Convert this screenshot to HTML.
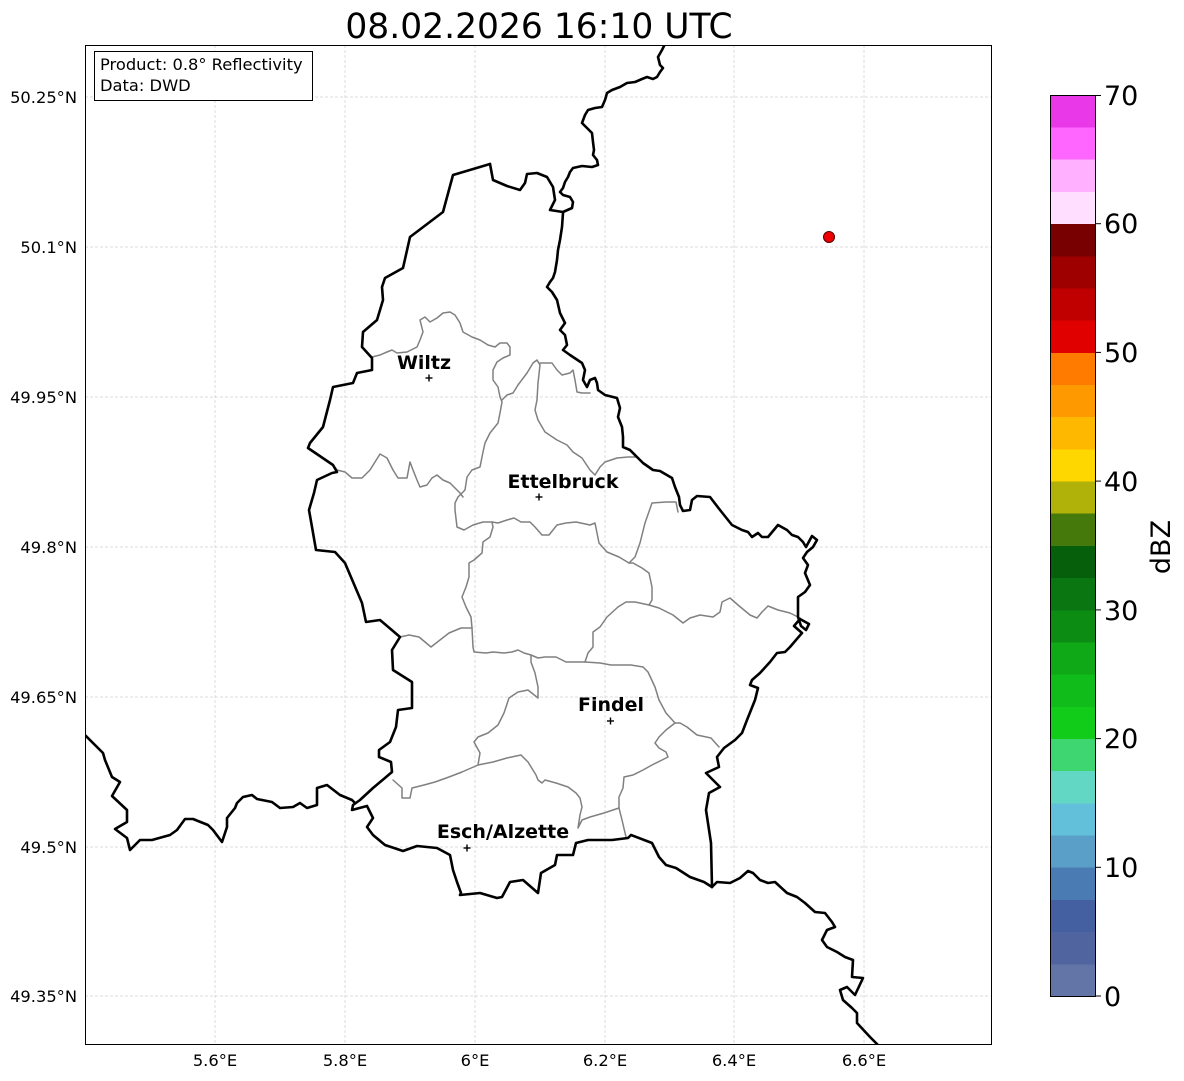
<!DOCTYPE html>
<html><head><meta charset="utf-8"><style>
html,body{margin:0;padding:0;background:#fff;}
svg{display:block;font-family:"DejaVu Sans","Liberation Sans",sans-serif;}
</style></head><body>
<svg width="1184" height="1081" viewBox="0 0 1184 1081" xmlns="http://www.w3.org/2000/svg">
<defs><clipPath id="ax"><rect x="85" y="45" width="907" height="1000"/></clipPath></defs>
<rect width="1184" height="1081" fill="#fff"/>
<text x="539" y="38" font-size="34.5" text-anchor="middle" fill="#000">08.02.2026 16:10 UTC</text>
<g stroke="#b8b8b8" stroke-width="0.5" stroke-dasharray="3,2" fill="none">
<line x1="215" y1="45" x2="215" y2="1045"/><line x1="345" y1="45" x2="345" y2="1045"/><line x1="475" y1="45" x2="475" y2="1045"/><line x1="605" y1="45" x2="605" y2="1045"/><line x1="734" y1="45" x2="734" y2="1045"/><line x1="864" y1="45" x2="864" y2="1045"/>
<line x1="85" y1="97" x2="992" y2="97"/><line x1="85" y1="247" x2="992" y2="247"/><line x1="85" y1="397" x2="992" y2="397"/><line x1="85" y1="547" x2="992" y2="547"/><line x1="85" y1="697" x2="992" y2="697"/><line x1="85" y1="847" x2="992" y2="847"/><line x1="85" y1="996" x2="992" y2="996"/>
</g>
<g clip-path="url(#ax)" fill="none" stroke-linejoin="round" stroke-linecap="round">
<g stroke="#808080" stroke-width="1.5">
<polyline points="372,357 380,355 387,352 392,350 397,353 407,352 417,347 420,340 423,332 420,320 425,317 430,322 437,318 443,313 450,312 455,315 460,323 463,332 472,337 480,340 488,345 495,347 500,343 507,343 510,347 510,355 503,358 497,362 493,370 493,380 498,387 500,397 502,402 500,413 498,423 490,433 485,443 483,452 480,467 472,470 467,477 465,490 458,497 455,503 455,510 457,527 464,530 473,525 483,522 492,522 498,523 507,520 514,518 521,522 530,522 535,527 542,535 549,535 557,525 566,523 576,522 590,525 595,523 599,543 607,552 619,557 629,563 635,557 640,543 645,523 652,503 666,502 676,502 678,512"/>
<polyline points="502,400 507,395 513,393 518,385 527,373 533,363 537,360 540,365 538,383 537,400 535,410 538,420 545,432 557,440 567,445 573,452 582,458 590,470 595,475 600,467 605,462 617,458 628,457 636,457"/>
<polyline points="540,363 545,363 552,363 557,370 562,375 570,373 573,370 575,380 577,392 582,393 590,393"/>
<polyline points="333,465 337,470 345,472 352,478 362,478 370,470 375,462 380,454 387,458 393,470 398,478 407,478 410,462 413,470 417,480 420,487 427,485 432,478 437,475 443,480 450,483 455,488 460,493 463,497"/>
<polyline points="492,522 493,527 490,537 483,542 482,553 474,560 469,563 469,577 466,587 462,597 466,607 471,617 472,628"/>
<polyline points="472,628 461,628 449,633 431,647 419,637 409,635 400,637"/>
<polyline points="472,628 473,647 474,652 486,653 493,652 504,653 512,652 518,650 524,653 531,655 538,658 545,657 556,657 566,662 576,662 585,662 600,663 611,665 631,665 643,667 648,672 655,687 659,700 666,713 675,723 680,723 687,727 697,735 711,738 719,747"/>
<polyline points="585,662 588,653 593,647 593,632 600,627 607,617 618,607 626,602 635,602 649,605 659,608 673,615 683,623 690,618 700,615 713,617 720,612 722,602 730,598 738,605 750,615 757,618 762,612 768,606 778,610 790,613 800,618"/>
<polyline points="649,605 652,600 652,587 649,573 642,568 633,563 629,563"/>
<polyline points="675,723 666,730 659,737 655,743 659,748 666,752 668,757 662,760 652,765 643,770 633,775 624,777 623,788 619,797 619,808 622,820 626,837 628,838"/>
<polyline points="619,808 604,813 590,817 582,820 578,828 580,815 582,807 580,798 576,793 568,787 556,783 545,780 542,783 538,780 536,775 528,762 523,757 521,755 507,758 493,762 478,765 462,772 449,777 435,782 424,785 412,788 410,798 402,798 402,788 393,780"/>
<polyline points="478,765 480,753 474,742 478,737 488,733 498,725 504,713 509,698 518,692 528,690 538,698 538,687 535,673 531,662 531,655"/>
</g>
<g stroke="#000" stroke-width="2.6">
<polyline points="490,164 453,175 443,212 410,237 403,268 385,278 382,287 383,300 377,320 363,332 362,347 372,358 372,370 357,373 353,383 333,387 330,400 323,427 310,443 308,448 333,465 337,472 332,473 317,480 314,493 309,510 312,527 316,550 335,552 345,563 362,603 366,622 380,620 400,637 392,650 393,670 412,682 412,708 398,710 396,727 390,742 379,750 379,757 391,762 392,772 373,788 360,800 353,805 352,810 367,806 373,818 367,827 373,835 385,845 403,851 417,846 437,848 450,855 453,870 457,882 461,893 460,895 480,893 497,898 502,897 510,882 523,880 538,893 541,873 555,865 557,855 573,855 576,843 588,840 612,840 628,838 631,835 652,843 659,857 666,865 676,868 690,877 704,882 712,887"/>
<polyline points="712,887 711,843 706,810 709,793 720,787 706,773 719,767 717,757 724,748 735,740 742,733 747,720 755,700 758,688 750,685 752,680 760,673 770,662 777,653 785,652 790,647 802,633 794,626 800,619 809,624 806,630 801,626 798,617 798,597 805,592 810,585 805,573 808,565 803,558 807,552 813,547 817,540 812,536 806,547 803,542 798,537 792,535 787,530 778,525 768,537 762,537 758,533 752,537 748,532 742,530 732,525 720,510 710,497 697,496 692,500 690,510 683,511 680,505 679,497 675,487 672,478 660,471 653,470 643,463 637,457 630,450 623,447 623,437 622,427 618,417 620,408 617,398 605,395 598,390 597,383 595,378 590,380 587,387 583,380 585,370 582,363 570,355 563,350 567,345 565,335 560,330 565,323 560,313 557,300 552,292 547,287 550,282 553,278 555,272 557,260 558,250 560,240 562,227 563,213"/>
<polyline points="490,164 493,180 507,186 520,190 525,183 527,174 537,173 547,177 553,187 555,200 550,210 563,212 572,208 573,202 570,197 563,195 560,192 563,188 565,182 568,177 570,172 573,168 582,166 592,167 598,165 597,160 593,155 594,150 593,142 592,133 587,128 582,123 585,115 588,110 595,108 602,107 605,100 607,93 612,90 620,87 627,83 635,82 642,79 647,77 653,79 657,77 660,72 663,68 660,65 658,57 662,50 665,44"/>
<polyline points="85,735 103,753 105,760 112,777 120,782 112,796 127,810 127,822 115,829 127,838 130,850 140,840 152,840 170,835 177,830 185,819 193,819 208,825 213,830 222,842 227,827 227,818 235,808 237,803 243,797 252,795 257,799 272,802 280,808 293,807 300,803 307,808 317,805 317,788 327,785 340,795 352,800 355,803"/>
<polyline points="712,887 717,882 730,883 740,878 748,871 753,873 760,880 768,883 775,882 787,893 797,897 805,903 815,912 825,913 832,922 835,927 827,930 822,940 827,947 837,952 845,957 853,960 852,977 863,978 855,995 847,987 840,990 843,1000 852,1008 857,1013 857,1023 870,1037 878,1045 884,1052"/>
</g>
</g>
<circle cx="829" cy="237" r="5.5" fill="#ee0000" stroke="#550000" stroke-width="1"/>
<g stroke="#000" stroke-width="1.4">
<line x1="425.5" y1="378" x2="432.5" y2="378"/><line x1="429" y1="374.5" x2="429" y2="381.5"/>
<line x1="535.5" y1="497" x2="542.5" y2="497"/><line x1="539" y1="493.5" x2="539" y2="500.5"/>
<line x1="607" y1="721" x2="614" y2="721"/><line x1="610.5" y1="717.5" x2="610.5" y2="724.5"/>
<line x1="463.5" y1="848" x2="470.5" y2="848"/><line x1="467" y1="844.5" x2="467" y2="851.5"/>
</g>
<g font-size="19" font-weight="bold" text-anchor="middle" fill="#000">
<text x="424" y="369">Wiltz</text>
<text x="563" y="488">Ettelbruck</text>
<text x="611" y="711">Findel</text>
<text x="503" y="838">Esch/Alzette</text>
</g>
<rect x="85.5" y="45.5" width="906" height="999" fill="none" stroke="#000" stroke-width="1"/>
<rect x="94.5" y="51.5" width="218" height="49" fill="#fff" stroke="#000" stroke-width="1"/>
<text x="100" y="70" font-size="16.3" fill="#000">Product: 0.8° Reflectivity</text>
<text x="100" y="91" font-size="16.3" fill="#000">Data: DWD</text>
<g font-size="16.3" fill="#000" text-anchor="end">
<text x="77" y="103">50.25°N</text>
<text x="77" y="253">50.1°N</text>
<text x="77" y="403">49.95°N</text>
<text x="77" y="553">49.8°N</text>
<text x="77" y="703">49.65°N</text>
<text x="77" y="853">49.5°N</text>
<text x="77" y="1002">49.35°N</text>
</g>
<g font-size="16.3" fill="#000" text-anchor="middle">
<text x="215" y="1066">5.6°E</text>
<text x="345" y="1066">5.8°E</text>
<text x="475" y="1066">6°E</text>
<text x="605" y="1066">6.2°E</text>
<text x="734" y="1066">6.4°E</text>
<text x="864" y="1066">6.6°E</text>
</g>
<g shape-rendering="crispEdges">
<rect x="1050" y="963.8" width="45" height="32.7" fill="#6375a6"/>
<rect x="1050" y="931.6" width="45" height="32.7" fill="#5065a0"/>
<rect x="1050" y="899.4" width="45" height="32.7" fill="#4560a0"/>
<rect x="1050" y="867.2" width="45" height="32.7" fill="#4a7bb2"/>
<rect x="1050" y="835.0" width="45" height="32.7" fill="#5a9fc8"/>
<rect x="1050" y="802.9" width="45" height="32.7" fill="#63c0da"/>
<rect x="1050" y="770.7" width="45" height="32.7" fill="#62d8c4"/>
<rect x="1050" y="738.5" width="45" height="32.7" fill="#3dd671"/>
<rect x="1050" y="706.3" width="45" height="32.7" fill="#12cc1a"/>
<rect x="1050" y="674.1" width="45" height="32.7" fill="#10bc1a"/>
<rect x="1050" y="641.9" width="45" height="32.7" fill="#0fa816"/>
<rect x="1050" y="609.8" width="45" height="32.7" fill="#0d8c14"/>
<rect x="1050" y="577.6" width="45" height="32.7" fill="#0a7612"/>
<rect x="1050" y="545.4" width="45" height="32.7" fill="#06600b"/>
<rect x="1050" y="513.2" width="45" height="32.7" fill="#45790b"/>
<rect x="1050" y="481.0" width="45" height="32.7" fill="#b0b20a"/>
<rect x="1050" y="448.8" width="45" height="32.7" fill="#ffd700"/>
<rect x="1050" y="416.7" width="45" height="32.7" fill="#ffb800"/>
<rect x="1050" y="384.5" width="45" height="32.7" fill="#ff9900"/>
<rect x="1050" y="352.3" width="45" height="32.7" fill="#ff7b00"/>
<rect x="1050" y="320.1" width="45" height="32.7" fill="#e00000"/>
<rect x="1050" y="287.9" width="45" height="32.7" fill="#c00000"/>
<rect x="1050" y="255.8" width="45" height="32.7" fill="#9e0000"/>
<rect x="1050" y="223.6" width="45" height="32.7" fill="#780000"/>
<rect x="1050" y="191.4" width="45" height="32.7" fill="#ffdeff"/>
<rect x="1050" y="159.2" width="45" height="32.7" fill="#ffb0ff"/>
<rect x="1050" y="127.0" width="45" height="32.7" fill="#ff66ff"/>
<rect x="1050" y="95" width="45" height="32.5" fill="#e838e8"/>
</g>
<rect x="1050.5" y="95.5" width="45" height="901" fill="none" stroke="#000" stroke-width="1"/>
<g stroke="#000" stroke-width="1">
<line x1="1095" y1="996" x2="1101" y2="996"/><line x1="1095" y1="867.3" x2="1101" y2="867.3"/><line x1="1095" y1="738.6" x2="1101" y2="738.6"/><line x1="1095" y1="609.9" x2="1101" y2="609.9"/><line x1="1095" y1="481.1" x2="1101" y2="481.1"/><line x1="1095" y1="352.4" x2="1101" y2="352.4"/><line x1="1095" y1="223.7" x2="1101" y2="223.7"/><line x1="1095" y1="95.5" x2="1101" y2="95.5"/>
</g>
<g font-size="27" fill="#000">
<text x="1104" y="1006">0</text>
<text x="1104" y="877">10</text>
<text x="1104" y="748">20</text>
<text x="1104" y="620">30</text>
<text x="1104" y="491">40</text>
<text x="1104" y="362">50</text>
<text x="1104" y="233">60</text>
<text x="1104" y="105">70</text>
</g>
<text transform="translate(1170,547) rotate(-90)" font-size="27" text-anchor="middle" fill="#000">dBZ</text>
</svg>
</body></html>
